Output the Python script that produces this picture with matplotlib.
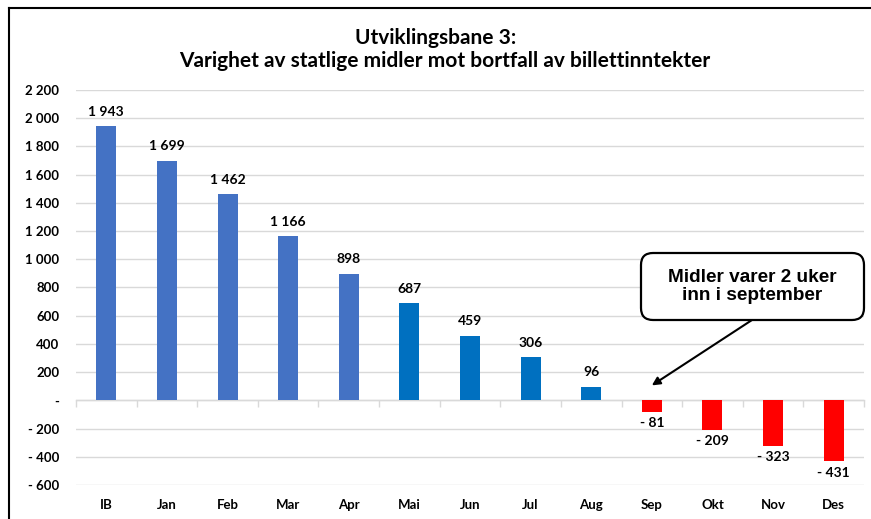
import matplotlib
matplotlib.use("Agg")
import matplotlib.pyplot as plt
from matplotlib.lines import Line2D
from matplotlib.patches import FancyBboxPatch

categories = ["IB", "Jan", "Feb", "Mar", "Apr", "Mai", "Jun", "Jul", "Aug", "Sep", "Okt", "Nov", "Des"]
values = [1943, 1699, 1462, 1166, 898, 687, 459, 306, 96, -81, -209, -323, -431]
yticks = list(range(-600, 2201, 200))
title_lines = ["Utviklingsbane 3:", "Varighet av statlige midler mot bortfall av billettinntekter"]
note = "Midler varer 2 uker\ninn i september"

def fmt(v):
    if v == 0:
        return "-"
    s = f"{abs(v):,}".replace(",", " ")
    return ("- " + s) if v < 0 else s

colors = []
for i, v in enumerate(values):
    if v < 0:
        colors.append("#FF0000")
    elif i <= 4:
        colors.append("#4472C4")
    else:
        colors.append("#0070C0")

FONT = "Lato"
W, H = 871, 519
AX_L, AX_R, AX_T, AX_B = 76, 864, 90, 485
fig = plt.figure(figsize=(W/100, H/100), dpi=100)
ax = fig.add_axes([AX_L/W, 1-AX_B/H, (AX_R-AX_L)/W, (AX_B-AX_T)/H])

x = list(range(len(categories)))
ax.bar(x, values, width=0.33, color=colors, zorder=3)
ax.set_xlim(-0.5, len(categories)-0.5)
ax.set_ylim(-600, 2200)
ax.set_yticks(yticks)
ax.set_yticklabels([fmt(t) for t in yticks], fontfamily=FONT, fontweight="bold", fontsize=9.5)
ax.tick_params(axis="y", length=0, pad=12)
ax.set_xticks(x)
ax.set_xticklabels(categories, fontfamily=FONT, fontweight="bold", fontsize=9.5)
ax.tick_params(axis="x", length=0, pad=10)
ax.grid(axis="y", color="#D9D9D9", linewidth=1, zorder=0)
for s in ax.spines.values():
    s.set_visible(False)

# zero axis with boundary ticks
sec = ax.secondary_xaxis(600/2800)
sec.set_xticks([i - 0.5 for i in range(len(categories)+1)])
sec.set_xticklabels([])
sec.tick_params(axis="x", length=5, color="#D9D9D9", width=1)
sec.spines["bottom"].set_color("#D9D9D9")
sec.spines["bottom"].set_linewidth(1)

for i, v in enumerate(values):
    if v >= 0:
        ax.annotate(fmt(v), (i, v), xytext=(0, 6), textcoords="offset points",
                    ha="center", va="bottom", fontfamily=FONT, fontweight="bold", fontsize=10)
    else:
        ax.annotate(fmt(v), (i, v), xytext=(0, -4), textcoords="offset points",
                    ha="center", va="top", fontfamily=FONT, fontweight="bold", fontsize=10)

# annotation callout box (axes fraction)
aw, ah = AX_R - AX_L, AX_B - AX_T
bx0, bx1 = (641-AX_L)/aw, (864-AX_L)/aw
by0, by1 = (AX_B-320)/ah, (AX_B-253)/ah
box = FancyBboxPatch((bx0, by0), bx1-bx0, by1-by0,
                     boxstyle="round,pad=0,rounding_size=%f" % (12/aw),
                     mutation_aspect=aw/ah, transform=ax.transAxes,
                     fc="white", ec="black", lw=1.6, clip_on=False, zorder=5)
ax.add_patch(box)
ax.text((bx0+bx1)/2, (by0+by1)/2, note, transform=ax.transAxes, ha="center", va="center",
        fontfamily="Liberation Sans", fontweight="bold", fontsize=13.7, linespacing=1.15, zorder=6)
ax.annotate("", xy=(9.0, 106), xycoords="data",
            xytext=((752-AX_L)/aw, by0), textcoords="axes fraction",
            arrowprops=dict(arrowstyle="-|>", color="black", lw=1.5, mutation_scale=12,
                            shrinkA=0, shrinkB=0), zorder=5)

fig.text(436/W, 1-38/H, title_lines[0], ha="center", va="center",
         fontfamily=FONT, fontweight="bold", fontsize=15)
fig.text(445/W, 1-61/H, title_lines[1], ha="center", va="center",
         fontfamily=FONT, fontweight="bold", fontsize=15)

# outer frame (top and left)
fig.add_artist(Line2D([9/W, 1], [1-8/H, 1-8/H], transform=fig.transFigure, color="black", lw=1.5))
fig.add_artist(Line2D([9/W, 9/W], [0, 1-8/H], transform=fig.transFigure, color="black", lw=1.5))

fig.savefig("out.png", dpi=100)
